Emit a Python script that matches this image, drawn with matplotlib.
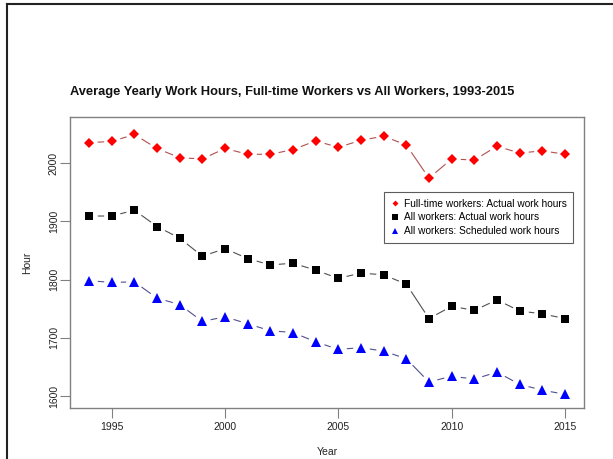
import matplotlib
matplotlib.use("Agg")
import matplotlib.pyplot as plt
from matplotlib.lines import Line2D

plt.rcParams['font.family'] = ['Liberation Sans', 'DejaVu Sans']

years = list(range(1994, 2016))
fulltime_actual = [2035, 2037, 2049, 2025, 2009, 2007, 2025, 2015, 2015, 2023, 2038,
                   2027, 2039, 2046, 2031, 1974, 2007, 2005, 2029, 2017, 2021, 2015]
all_actual = [1909, 1909, 1919, 1891, 1871, 1840, 1853, 1836, 1825, 1828, 1816,
              1802, 1811, 1808, 1792, 1733, 1754, 1747, 1765, 1746, 1741, 1733]
all_scheduled = [1798, 1795, 1796, 1768, 1757, 1728, 1736, 1724, 1712, 1709, 1693,
                 1680, 1683, 1677, 1664, 1624, 1634, 1629, 1641, 1620, 1610, 1603]

x_ticks = [1995, 2000, 2005, 2010, 2015]
y_ticks = [1600, 1700, 1800, 1900, 2000]

title = "Average Yearly Work Hours, Full-time Workers vs All Workers, 1993-2015"
labels = ["Full-time workers: Actual work hours",
          "All workers: Actual work hours",
          "All workers: Scheduled work hours"]

fig = plt.figure(figsize=(6.13, 4.59), dpi=100)
ax = fig.add_axes([70/613, 1-408/459, (584-70)/613, (408-117)/459])

series = [
    (fulltime_actual, 'red', 'D', 5.0, '#b05050'),
    (all_actual, 'black', 's', 5.6, '#505050'),
    (all_scheduled, 'blue', '^', 7.4, '#505090'),
]
for vals, col, mk, ms, lcol in series:
    ax.plot(years, vals, color=lcol, lw=0.8, zorder=2)
    ax.plot(years, vals, linestyle='none', marker='o', ms=11,
            markerfacecolor='white', markeredgecolor='white', zorder=3)
    ax.plot(years, vals, linestyle='none', marker=mk, ms=ms, markeredgewidth=0,
            markerfacecolor=col, zorder=4)

ax.set_xlim(1993.16, 2015.84)
ax.set_ylim(1579.4, 2079)
ax.set_xticks(x_ticks)
ax.set_yticks(y_ticks)
ax.set_xticklabels([str(v) for v in x_ticks], fontsize=7.5, color='#222222')
ax.set_yticklabels([str(v) for v in y_ticks], fontsize=7.5, color='#222222',
                   rotation=90, va='center')
ax.tick_params(axis='x', direction='out', length=7, width=0.8, color='#808080', pad=3)
ax.tick_params(axis='y', direction='out', length=7, width=0.8, color='#808080', pad=1)
for s in ax.spines.values():
    s.set_color('#808080')
    s.set_linewidth(1.0)

ax.set_xlabel("Year", fontsize=7.5, color='#222222', labelpad=11)
ax.set_ylabel("Hour", fontsize=7.5, color='#222222', labelpad=12)

fig.text(70/613, 1-92/459, title, fontsize=9.3, fontweight='bold',
         ha='left', va='center', color='#111111')

handles = [
    Line2D([], [], linestyle='none', marker='D', ms=3.0, markeredgewidth=0, color='red'),
    Line2D([], [], linestyle='none', marker='s', ms=4.3, markeredgewidth=0, color='black'),
    Line2D([], [], linestyle='none', marker='^', ms=4.8, markeredgewidth=0, color='blue'),
]
leg = ax.legend(handles, labels, loc='upper left',
                bbox_to_anchor=((384-70)/514, 1-(192-117)/291),
                fontsize=7.3, frameon=True, fancybox=False, borderpad=0.65,
                handlelength=0.8, handletextpad=0.5, labelspacing=0.38,
                borderaxespad=0)
leg.get_frame().set_edgecolor('#333333')
leg.get_frame().set_linewidth(0.8)

# outer frame lines (left and top)
fig.add_artist(Line2D([7/613, 7/613], [0, 1-3.5/459], transform=fig.transFigure,
                      color='#222222', lw=1.5))
fig.add_artist(Line2D([7/613, 1], [1-3.5/459, 1-3.5/459], transform=fig.transFigure,
                      color='#222222', lw=1.5))

fig.savefig("out.png", dpi=100)
